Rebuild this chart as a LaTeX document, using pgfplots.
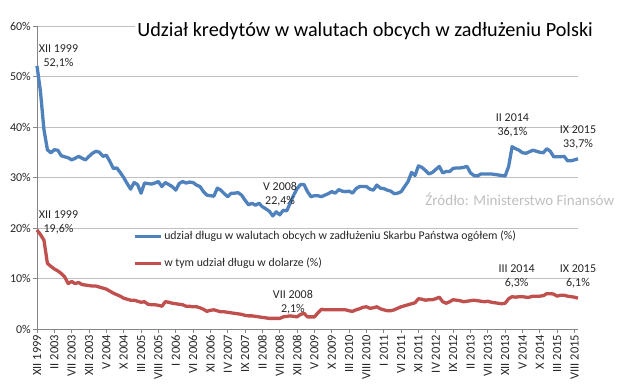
\documentclass[border=0pt]{standalone}
\usepackage{pgfplots}
\usepackage{pgfplotstable}
\pgfplotsset{compat=1.18}
\usepackage{fontspec}
\setmainfont{Carlito}
\definecolor{sblue}{HTML}{4F81BD}
\definecolor{sred}{HTML}{C0504D}
\definecolor{gridc}{HTML}{BFBFBF}
\definecolor{axc}{HTML}{868686}
\definecolor{txt}{HTML}{262626}
\newcommand{\fs}[1]{\fontsize{#1}{#1}\selectfont}
\pgfplotstableread{
idx blue red
0 52.1 19.6
1 47.0 18.7
2 39.5 17.6
3 35.5 13.0
4 34.9 12.4
5 35.5 11.9
6 35.4 11.5
7 34.3 11.0
8 34.1 10.3
9 33.9 9.0
10 33.5 9.4
11 33.8 9.0
12 34.2 9.2
13 33.8 8.8
14 33.5 8.7
15 34.2 8.6
16 34.8 8.5
17 35.2 8.5
18 35.0 8.3
19 34.2 8.1
20 34.4 7.9
21 33.2 7.5
22 31.8 7.1
23 31.9 6.8
24 31.0 6.5
25 30.0 6.1
26 28.8 5.9
27 27.7 5.7
28 29.0 5.7
29 28.6 5.5
30 26.9 5.3
31 28.9 5.4
32 28.8 4.9
33 28.7 4.8
34 28.9 4.8
35 29.2 4.7
36 28.2 4.5
37 29.0 5.4
38 28.6 5.3
39 28.2 5.1
40 27.5 5.0
41 28.8 4.9
42 29.2 4.8
43 28.9 4.5
44 29.1 4.5
45 29.0 4.4
46 28.5 4.4
47 28.2 4.2
48 27.2 3.9
49 26.5 3.5
50 26.4 3.7
51 26.3 3.8
52 27.9 3.6
53 27.5 3.4
54 26.8 3.4
55 26.2 3.3
56 26.9 3.2
57 26.9 3.1
58 27.0 3.0
59 26.5 2.9
60 25.5 2.7
61 24.6 2.6
62 24.9 2.6
63 24.5 2.5
64 24.9 2.4
65 24.2 2.3
66 23.8 2.2
67 23.3 2.1
68 22.4 2.1
69 23.2 2.1
70 22.6 2.1
71 23.5 2.4
72 23.4 2.5
73 24.9 2.6
74 26.5 2.5
75 27.8 2.4
76 28.6 2.9
77 28.6 3.1
78 27.2 2.4
79 26.2 2.4
80 26.4 2.4
81 26.4 3.2
82 26.2 3.9
83 26.5 3.8
84 26.8 3.8
85 27.2 3.8
86 26.9 3.8
87 27.6 3.8
88 27.3 3.8
89 27.2 3.8
90 27.3 3.6
91 26.9 3.5
92 27.8 3.8
93 28.2 4.0
94 28.2 4.3
95 28.2 4.4
96 27.7 4.1
97 27.5 4.2
98 28.5 4.4
99 27.9 4.0
100 27.8 3.8
101 27.5 3.6
102 27.3 3.6
103 26.8 3.8
104 26.9 4.1
105 27.2 4.4
106 28.2 4.6
107 29.2 4.8
108 31.0 5.0
109 30.4 5.2
110 32.3 6.0
111 32.0 5.9
112 31.4 5.7
113 30.7 5.8
114 31.0 5.8
115 31.6 6.0
116 32.2 6.3
117 30.9 5.4
118 31.2 5.1
119 31.2 5.4
120 31.8 5.8
121 31.9 5.7
122 31.9 5.6
123 32.0 5.4
124 32.2 5.5
125 30.9 5.6
126 30.4 5.7
127 30.3 5.6
128 30.7 5.5
129 30.7 5.4
130 30.7 5.5
131 30.7 5.3
132 30.6 5.2
133 30.5 5.1
134 30.4 5.0
135 30.3 5.1
136 32.2 6.0
137 36.1 6.4
138 35.7 6.3
139 35.4 6.4
140 34.9 6.4
141 34.8 6.3
142 35.1 6.3
143 35.4 6.5
144 35.2 6.5
145 35.0 6.5
146 34.9 6.6
147 35.7 7.0
148 35.2 7.0
149 34.1 6.9
150 34.1 6.5
151 34.1 6.7
152 34.2 6.7
153 33.3 6.5
154 33.3 6.4
155 33.5 6.3
156 33.7 6.1
}\datatab
\begin{document}
\begin{tikzpicture}
\path[use as bounding box] (-37pt,-57pt) rectangle (593pt,329pt);
\begin{axis}[
  at={(0pt,0pt)}, anchor=south west,
  scale only axis, width=541pt, height=303pt,
  xmin=0, xmax=156, ymin=0, ymax=60,
  clip=false,
  axis x line*=bottom, axis y line*=left,
  axis line style={axc, line width=0.8pt},
  tick align=outside, major tick length=4pt,
  tick style={axc, line width=0.8pt},
  xtick={0,5,...,155},
  xticklabels={XII 1999,II 2003,VII 2003,XII 2003,V 2004,X 2004,III 2005,VIII 2005,I 2006,VI 2006,XI 2006,IV 2007,IX 2007,II 2008,VII 2008,XII 2008,V 2009,X 2009,III 2010,VIII 2010,I 2011,VI 2011,XI 2011,IV 2012,IX 2012,II 2013,VII 2013,XII 2013,V 2014,X 2014,III 2015,VIII 2015},
  xticklabel style={rotate=90, anchor=east, inner sep=1.5pt, font=\fs{12.5}, text=txt},
  ytick={0,10,...,60},
  yticklabels={0\%,10\%,20\%,30\%,40\%,50\%,60\%},
  yticklabel style={font=\fs{12}, text=txt, inner sep=2pt},
  ymajorgrids, grid style={gridc, line width=0.8pt},
  legend style={at={(0.177,0.33)}, anchor=north west, draw=none, fill=none,
    font=\fs{11.8}, text=txt, row sep=13pt, inner sep=0pt},
  legend cell align=left,
  legend image code/.code={\draw[#1] (0pt,0pt) -- (26pt,0pt);},
]
\addplot[sblue, line width=3.3pt, line join=round] table[x=idx, y=blue] {\datatab};
\addlegendentry{udział długu w walutach obcych w zadłużeniu Skarbu Państwa ogółem (\%)}
\addplot[sred, line width=3.3pt, line join=round] table[x=idx, y=red] {\datatab};
\addlegendentry{w tym udział długu w dolarze (\%)}
\node[anchor=west, fill=white, inner sep=2pt, font=\fs{20.2}, text=black] at (axis cs:28.3,59.0) {Udział kredytów w walutach obcych w zadłużeniu Polski};
\node[anchor=west, font=\fs{15}, text=gridc] at (axis cs:111,25.7) {Źródło: Ministerstwo Finansów};
\begin{scope}[every node/.style={align=center, font=\fontsize{12}{14}\selectfont, text=txt}]
\node at (axis cs:6.2,53.9) {XII 1999\\52,1\%};
\node at (axis cs:6.2,21.2) {XII 1999\\19,6\%};
\node at (axis cs:70.1,26.7) {V 2008\\22,4\%};
\node at (axis cs:73.8,5.35) {VII 2008\\2,1\%};
\node at (axis cs:137.1,40.4) {II 2014\\36,1\%};
\node at (axis cs:156,38.0) {IX 2015\\33,7\%};
\node at (axis cs:138.3,10.5) {III 2014\\6,3\%};
\node at (axis cs:156,10.5) {IX 2015\\6,1\%};
\end{scope}
\end{axis}
\end{tikzpicture}
\end{document}
